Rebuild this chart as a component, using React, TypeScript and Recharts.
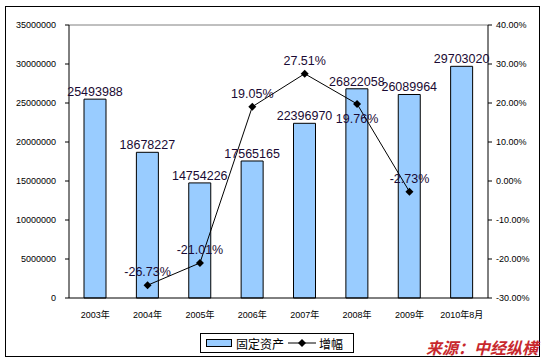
import {
  ComposedChart, Bar, Line, XAxis, YAxis, LabelList, ReferenceLine,
} from 'recharts'

const YEARS = ['2003年', '2004年', '2005年', '2006年', '2007年', '2008年', '2009年', '2010年8月']
const ASSETS = [25493988, 18678227, 14754226, 17565165, 22396970, 26822058, 26089964, 29703020]
const GROWTH = [null, -26.73, -21.01, 19.05, 27.51, 19.76, -2.73, null]
const LEFT_TICKS = [0, 5000000, 10000000, 15000000, 20000000, 25000000, 30000000, 35000000]
const RIGHT_TICKS = [-30, -20, -10, 0, 10, 20, 30, 40]
const BOUNDARY_TICKS = [1, 2, 3, 4, 5, 6, 7]

const data = YEARS.map((year, i) => ({ year, assets: ASSETS[i], growth: GROWTH[i] }))

const FONT = 'Arial, "Liberation Sans", "Noto Sans CJK SC", sans-serif'

const Diamond = (props: any) => {
  const { cx, cy } = props
  if (cx == null || cy == null || props.value == null) return null
  return <path d={`M${cx},${cy - 4}L${cx + 4},${cy}L${cx},${cy + 4}L${cx - 4},${cy}Z`} fill="#000" />
}

const GrowthLabel = (props: any) => {
  const { x, y, value, index } = props
  if (value == null) return null
  // 2008 label sits below its point
  const below = index === 5
  return (
    <text x={x} y={below ? y + 19 : y - 9} textAnchor="middle" fontSize={12.5} fontFamily={FONT} fill="#1a0a33">
      {value.toFixed(2)}%
    </text>
  )
}

const pct = (v: number) => `${v.toFixed(2)}%`

export default function App() {
  return (
    <div style={{ position: 'absolute', left: 0, top: 0, width: 549, height: 363, background: '#fff', fontFamily: FONT }}>
      <div style={{ position: 'absolute', left: 5, top: 6, width: 535, height: 351, border: '1px solid #000', boxSizing: 'border-box' }} />
      <ComposedChart
        width={549}
        height={363}
        data={data}
        margin={{ top: 25, right: 5, bottom: 35, left: 5 }}
        barSize={22}
        style={{ position: 'absolute', left: 0, top: 0 }}
      >
        {/* small tick marks between categories, excel style */}
        <XAxis
          xAxisId="bounds"
          type="number"
          domain={[0, 8]}
          ticks={BOUNDARY_TICKS}
          interval={0}
          mirror
          axisLine={false}
          stroke="#000"
          tickSize={3}
          tickFormatter={() => ''}
          height={0}
        />
        <XAxis
          dataKey="year"
          stroke="#000"
          tickLine={false}
          tick={{ fill: '#000', fontSize: 9, fontFamily: FONT }}
          tickMargin={8}
          height={30}
        />
        <YAxis
          yAxisId="left"
          domain={[0, 35000000]}
          ticks={LEFT_TICKS}
          interval={0}
          width={64}
          stroke="#000"
          tickSize={4}
          tick={{ fill: '#000', fontSize: 9, fontFamily: FONT }}
          tickMargin={9}
        />
        <YAxis
          yAxisId="right"
          orientation="right"
          domain={[-30, 40]}
          ticks={RIGHT_TICKS}
          interval={0}
          width={56}
          stroke="#000"
          tickSize={4}
          tick={{ fill: '#000', fontSize: 9, fontFamily: FONT }}
          tickMargin={4}
          tickFormatter={pct}
        />
        <ReferenceLine yAxisId="left" y={35000000} stroke="#808080" />
        <Bar yAxisId="left" dataKey="assets" fill="#99ccff" stroke="#000" strokeWidth={1} isAnimationActive={false}>
          <LabelList dataKey="assets" position="top" offset={3} fontSize={12.5} fontFamily={FONT} fill="#1a0a33" />
        </Bar>
        <Line
          yAxisId="right"
          dataKey="growth"
          stroke="#000"
          strokeWidth={1}
          dot={<Diamond />}
          activeDot={false}
          connectNulls={false}
          isAnimationActive={false}
        >
          <LabelList dataKey="growth" content={<GrowthLabel />} />
        </Line>
      </ComposedChart>
      <div
        style={{
          position: 'absolute', left: 200, top: 333, width: 154, height: 20, border: '1px solid #000',
          boxSizing: 'border-box', display: 'flex', alignItems: 'center', fontSize: 12, color: '#000',
        }}
      >
        <div style={{ width: 26, height: 8, background: '#99ccff', border: '1px solid #000', marginLeft: 5, boxSizing: 'border-box' }} />
        <span style={{ marginLeft: 4 }}>固定资产</span>
        <svg width={28} height={10} style={{ marginLeft: 4 }}>
          <line x1={0} y1={5} x2={28} y2={5} stroke="#000" />
          <path d="M14,1L18,5L14,9L10,5Z" fill="#000" />
        </svg>
        <span style={{ marginLeft: 3 }}>增幅</span>
      </div>
      <div
        style={{
          position: 'absolute', left: 426, top: 335, fontSize: 16, fontWeight: 'bold', fontStyle: 'italic',
          color: '#c8282d', fontFamily: '"Noto Sans CJK SC", sans-serif',
        }}
      >
        来源：中经纵横
      </div>
    </div>
  )
}
